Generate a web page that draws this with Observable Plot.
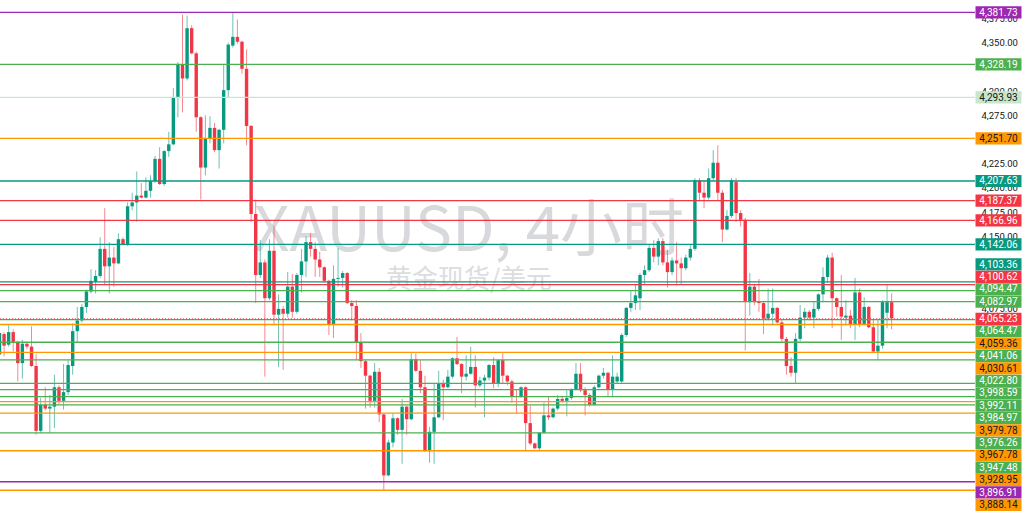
<!DOCTYPE html>
<html><head><meta charset="utf-8">
<script src="https://cdn.jsdelivr.net/npm/d3@7"></script>
<script src="https://cdn.jsdelivr.net/npm/@observablehq/plot@0.6"></script>
<style>html,body{margin:0;padding:0;background:#fff;}#chart{width:1024px;height:514px;overflow:hidden}</style>
</head><body><div id="chart"></div>
<script>
// ---- candle data (XAUUSD, 4h) ----
const open = [4028,4049,4038,4051,4041,4019,4039,4036,4016,3949,3976,3972,3974,3994,3980,3989,4016,4052,4063,4077,
4093,4103,4109,4137,4119,4128,4122,4147,4142,4181,4185,4192,4190,4197,4207,4230,4204,4238,4245,4293,
4328,4313,4365,4339,4273,4221,4251,4262,4239,4260,4301,4347,4356,4351,4323,4264,4173,4110,4123,4086,
4135,4069,4075,4070,4098,4072,4110,4124,4144,4137,4126,4118,4104,4059,4106,4107,4112,4081,4078,4040,
4021,4006,3980,4010,3966,3903,3937,3962,3950,3974,3961,4023,4011,3994,3928,3948,3963,3998,3994,4005,
4024,4018,4005,4008,4015,3996,4001,4004,4017,3998,4022,4006,4000,3985,3984,3994,3957,3936,3931,3947,
3965,3963,3972,3982,3980,3983,3992,4008,3991,3986,3976,3994,4006,4009,3992,4000,4000,4048,4076,4081,
4086,4110,4115,4138,4129,4145,4123,4113,4125,4122,4117,4128,4137,4208,4195,4190,4210,4226,4195,4157,
4171,4206,4174,4167,4082,4098,4083,4081,4065,4070,4076,4061,4044,4016,4009,4044,4066,4072,4066,4075,
4090,4108,4128,4086,4077,4066,4068,4059,4092,4059,4077,4056,4031,4037,4071,4082];
const high = [4053,4051,4058,4054,4042,4043,4041,4057,4028,3983,3994,3986,4007,3996,4018,4022,4060,4077,4080,4095,
4116,4115,4149,4179,4144,4139,4153,4149,4185,4195,4217,4205,4211,4213,4233,4242,4239,4258,4303,4330,
4379,4378,4368,4341,4274,4275,4274,4267,4261,4327,4350,4381.73,4374,4352,4343,4265,4188,4146,4126,4147,
4161,4090,4078,4113,4111,4112,4137,4150,4153,4144,4134,4119,4105,4120,4138,4114,4113,4084,4084,4050,
4022,4007,4019,4014,3967,3940,3967,3963,3982,3975,4029,4029,4022,4006,3953,3998,4011,4002,4012,4025,
4046,4019,4027,4036,4027,4005,4007,4018,4025,4023,4029,4007,4002,3991,3995,3995,3975,3937,3948,3978,
3985,3973,3986,3984,3991,3993,4019,4019,3994,3988,3996,4007,4014,4010,4027,4009,4050,4077,4094,4100,
4112,4120,4141,4146,4148,4148,4136,4128,4144,4128,4131,4141,4210,4210,4208,4220,4239,4244,4198,4177,
4210,4210,4177,4169,4112,4101,4106,4082,4096,4096,4077,4064,4046,4025,4050,4079,4076,4074,4082,4091,
4118,4131,4133,4087,4110,4084,4074,4107,4096,4087,4078,4064,4064,4084,4100,4091];
const low = [4026,4026,4036,4031,4000,4003,4033,4015,3945,3947,3970,3947,3952,3976,3971,3986,4007,4041,4061,4071,
4091,4091,4107,4100,4091,4098,4121,4141,4140,4177,4165,4189,4189,4190,4205,4203,4202,4232,4244,4273,
4278,4311,4338,4258,4188,4213,4246,4237,4220,4246,4293,4345,4349,4318,4244,4165,4081,4107,4005,4084,
4058,4015,4012,4066,4066,4070,4092,4108,4129,4108,4108,4102,4048,4045,4098,4097,4080,4063,4022,4014,
3972,3973,3973,3958,3888,3902,3932,3945,3915,3945,3960,4010,3988,3927,3916,3915,3962,3960,3993,4003,
4017,3988,4001,4007,3973,3994,3963,4001,3993,3994,3998,3996,3978,3967,3983,3929,3934,3930,3929,3946,
3960,3962,3970,3978,3964,3981,3991,3989,3965,3974,3975,3993,4003,3984,3985,3998,3998,4046,4072,4074,
4074,4100,4113,4123,4120,4120,4097,4110,4100,4100,4115,4125,4135,4187,4179,4188,4208,4187,4144,4156,
4169,4165,4160,4032,4068,4079,4072,4049,4063,4058,4060,4041,4007,4005,3998,4041,4055,4063,4055,4073,
4082,4102,4055,4067,4043,4058,4055,4043,4056,4058,4055,4030,4022,4034,4055,4054];
const close = [4050,4037,4051,4040,4019,4039,4036,4016,3949,3976,3972,3974,3994,3980,3989,4017,4052,4063,4077,4093,
4104,4109,4137,4119,4128,4122,4147,4142,4181,4185,4192,4190,4197,4207,4230,4204,4238,4245,4293,4328,
4313,4365,4339,4273,4221,4251,4262,4239,4260,4301,4348,4356,4351,4323,4264,4173,4110,4123,4086,4135,
4069,4075,4070,4098,4072,4110,4124,4144,4137,4126,4118,4104,4059,4106,4107,4112,4081,4078,4040,4021,
4006,3980,4010,3966,3903,3937,3962,3950,3974,3961,4023,4011,3994,3928,3948,3963,3998,3994,4005,4024,
4018,4005,4008,4015,3996,4001,4004,4017,3998,4022,4006,4000,3985,3984,3994,3957,3936,3931,3947,3965,
3963,3972,3982,3980,3983,3992,4008,3991,3986,3976,3994,4006,4009,3992,4005,4005,4048,4076,4081,4089,
4110,4115,4138,4129,4145,4123,4113,4125,4122,4117,4128,4137,4208,4195,4190,4210,4226,4195,4157,4171,
4208,4174,4167,4082,4098,4082,4081,4065,4070,4076,4061,4044,4016,4009,4044,4066,4072,4066,4075,4090,
4108,4128,4086,4077,4067,4068,4059,4092,4059,4077,4056,4031,4037,4082,4082,4065.23];

// ---- horizontal levels ----
const levels = [4381.73,4328.19,4293.93,4251.70,4207.63,4187.37,4166.96,4142.06,4103.36,4100.62,4094.47,4082.97,
4064.47,4059.36,4041.06,4030.61,4022.80,3998.59,3992.11,3984.97,3979.78,3976.26,3967.78,3947.48,3928.95,3896.91,3888.14];
const levelKinds = ["purple","green","pale","orange","teal","red","red","teal","teal","red","green","green",
"green","orange","green","orange","green","green","green","green","orange","green","orange","green","orange","purple","orange"];
const lastPrice = 4065.23;
const yTicks = [3875,3900,3925,3950,3975,4000,4025,4050,4075,4100,4125,4150,4175,4200,4225,4250,4275,4300,4325,4350,4375];
const watermark = "XAUUSD, 4小时";
const watermarkSub = "黄金现货/美元";

// ---- styles ----
const up = "#089981", down = "#f23645";
const lineColor = {purple:"#9c27b0", green:"#4caf50", pale:"#c8e6c9", orange:"#ff9800", teal:"#089981", red:"#f23645"};
const textColor = {purple:"#ffffff", green:"#ffffff", pale:"#131722", orange:"#131722", teal:"#ffffff", red:"#ffffff"};
const W = 1024, H = 514, MR = 49;
const yDomain = [3863.1, 4394.1];
const fmt = d3.format(",.2f");

const candles = close.map((c, i) => ({i, o: open[i], h: high[i], l: low[i], c}));
const col = d => d.c >= d.o ? up : down;

// label layout: price label fixed, other labels pushed away to avoid overlap
const yPix = d3.scaleLinear().domain(yDomain).range([H, 0]);
const gap = 12.4;
const labels = levels.map((v, k) => ({v, kind: levelKinds[k], price: false}))
  .concat([{v: lastPrice, kind: "red", price: true}]);
labels.sort((a, b) => yPix(a.v) - yPix(b.v));
labels.forEach(d => d.py = yPix(d.v));
const ai = labels.findIndex(d => d.price);
for (let k = ai - 1; k >= 0; k--) labels[k].py = Math.min(labels[k].py, labels[k + 1].py - gap);
for (let k = ai + 1; k < labels.length; k++) labels[k].py = Math.max(labels[k].py, labels[k - 1].py + gap);
labels.forEach(d => d.ly = yPix.invert(d.py));

// tick labels (nearly) covered by a level label are hidden, as the price scale does
const shownTicks = yTicks.filter(t => d3.min(labels, d => Math.abs(d.py - yPix(t))) > 5);

const boxSymbol = {draw(ctx) { ctx.rect(-23, -6.1, 46, 12.2); }};
const levelData = levels.map((v, k) => ({v, kind: levelKinds[k]}));

const chart = Plot.plot({
  width: W, height: H,
  marginTop: 0, marginBottom: 0, marginLeft: 0, marginRight: MR,
  x: {domain: [0.2186, 213.33], axis: null},
  y: {domain: yDomain, axis: null},
  color: {type: "identity"},
  style: {fontFamily: "Roboto, 'Liberation Sans', sans-serif", background: "#fff", overflow: "visible"},
  marks: [
    Plot.text([watermark], {text: d => d, frameAnchor: "middle", dx: -19, dy: -26, fontSize: 62,
      fontFamily: "'Noto Sans CJK SC', sans-serif", fill: "#d8d9dc"}),
    Plot.text([watermarkSub], {text: d => d, frameAnchor: "middle", dx: -19, dy: 22, fontSize: 26,
      fontFamily: "'Noto Sans CJK SC', sans-serif", fill: "#dcdde0"}),
    Plot.axisY(shownTicks, {anchor: "right", tickSize: 0, tickPadding: 6, tickFormat: fmt, fontSize: 9.5,
      color: "#131722", label: null}),
    Plot.ruleX(candles, {x: "i", y1: "l", y2: "h", stroke: col, strokeOpacity: 0.6, strokeWidth: 1}),
    Plot.ruleX(candles, {x: "i", y1: "o", y2: "c", stroke: col, strokeWidth: 3.4}),
    Plot.ruleY(levelData, {y: "v", stroke: d => lineColor[d.kind], strokeWidth: 1.3}),
    Plot.ruleY([lastPrice], {y: d => d, stroke: down, strokeWidth: 1, strokeDasharray: "1,2"}),
    Plot.dot(labels, {y: "ly", frameAnchor: "right", dx: 23, symbol: boxSymbol, r: 5,
      fill: d => lineColor[d.kind], stroke: null}),
    Plot.text(labels, {y: "ly", frameAnchor: "right", dx: 23, text: d => fmt(d.v), textAnchor: "middle",
      fontSize: 10, fill: d => textColor[d.kind]})
  ]
});
document.getElementById("chart").appendChild(chart);
</script>
</body></html>
